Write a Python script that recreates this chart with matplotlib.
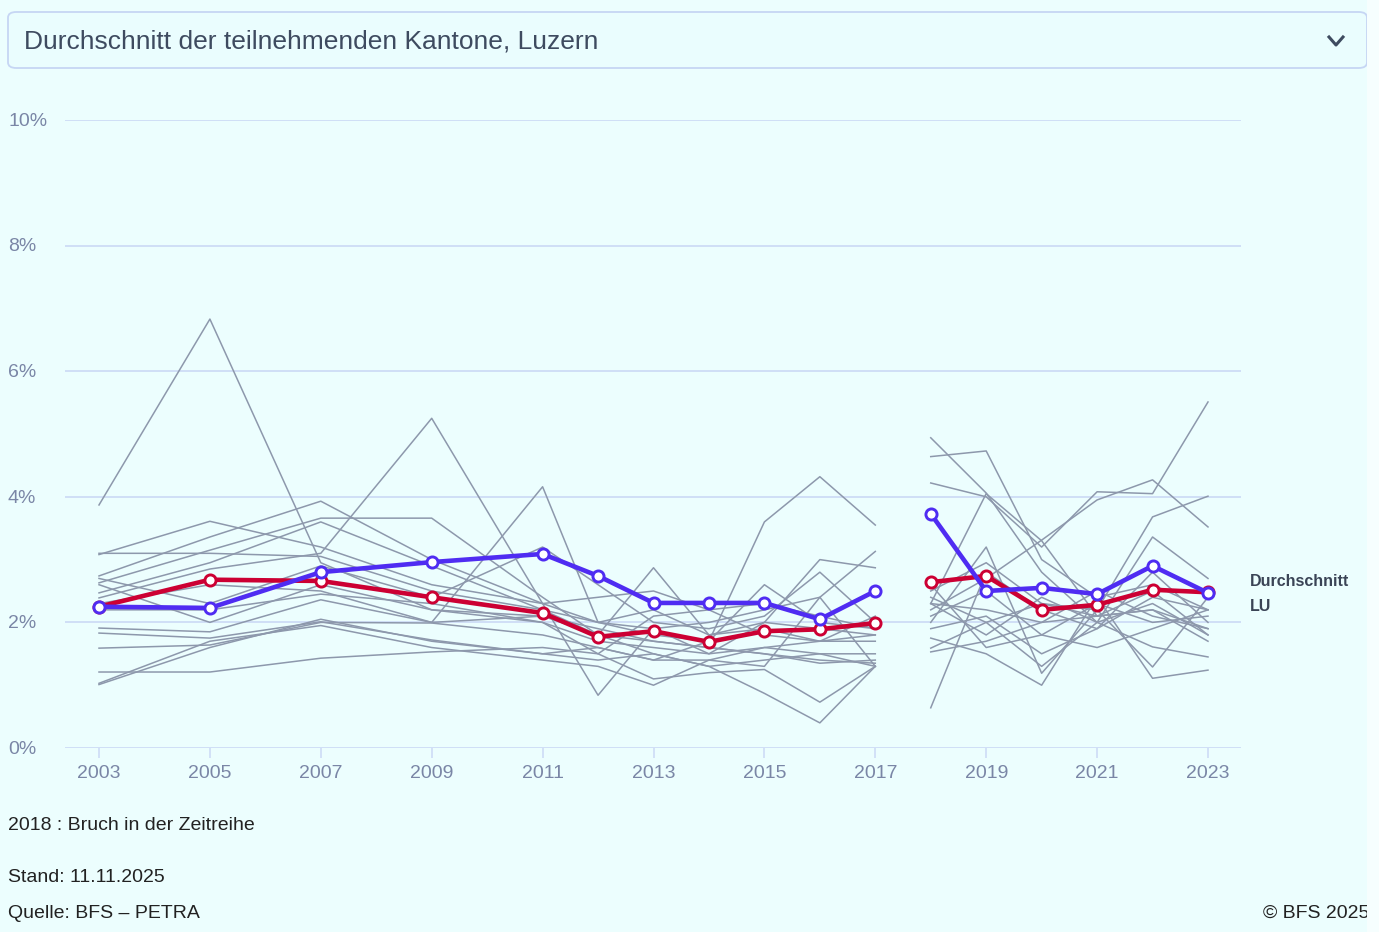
import matplotlib
matplotlib.use("Agg")
import matplotlib.pyplot as plt
import matplotlib.transforms as mtransforms
from matplotlib.patches import FancyBboxPatch, Rectangle
import numpy as np

# years with data (2018 = break in the series)
years = [2003, 2005, 2007, 2009, 2011, 2012, 2013, 2014, 2015, 2016, 2017,
         2018, 2019, 2020, 2021, 2022, 2023]
breakYear = 2018
tickYears = [2003, 2005, 2007, 2009, 2011, 2013, 2015, 2017, 2019, 2021, 2023]
yTicks = [0, 2, 4, 6, 8, 10]

avgValues = [2.25, 2.68, 2.66, 2.40, 2.15, 1.77, 1.86, 1.69, 1.86, 1.89, 1.99,
             2.64, 2.74, 2.20, 2.28, 2.52, 2.48]
luValues = [2.25, 2.23, 2.80, 2.96, 3.09, 2.74, 2.31, 2.31, 2.31, 2.05, 2.50,
            3.73, 2.50, 2.55, 2.45, 2.90, 2.47]

# other cantons (grey background lines)
cantonValues = [
    [3.87, 6.83, 2.95, 2.20, 2.10, 1.90, 1.70, 1.60, 1.50, 1.40, 1.35, 2.30, 4.05, 3.30, 2.10, 2.20, 1.90],
    [3.10, 3.10, 3.05, 2.50, 2.20, 1.80, 1.50, 1.30, 1.40, 1.50, 1.50, 4.94, 4.06, 2.80, 2.00, 2.30, 1.80],
    [3.08, 3.61, 3.20, 2.60, 2.30, 2.00, 2.20, 1.80, 2.00, 1.90, 1.80, 4.64, 4.73, 3.00, 2.40, 2.60, 2.20],
    [2.74, 3.36, 3.93, 3.00, 2.30, 2.40, 2.50, 2.20, 2.30, 2.10, 1.90, 4.22, 4.00, 3.20, 4.08, 4.05, 5.51],
    [2.63, 3.15, 3.66, 3.66, 2.40, 1.80, 2.87, 1.80, 1.90, 1.70, 1.70, 2.20, 2.70, 3.31, 3.95, 4.27, 3.52],
    [2.47, 2.95, 3.60, 2.90, 2.20, 2.00, 1.80, 1.70, 3.60, 4.32, 3.55, 2.50, 2.95, 2.30, 2.20, 3.68, 4.01],
    [2.39, 2.85, 3.10, 5.25, 2.30, 0.84, 1.90, 1.50, 1.60, 1.50, 1.30, 2.30, 1.80, 2.40, 2.00, 3.36, 2.70],
    [2.30, 2.60, 2.50, 2.00, 4.16, 2.00, 1.90, 2.00, 2.20, 2.40, 3.13, 2.00, 3.20, 1.19, 2.20, 1.29, 2.40],
    [2.20, 2.20, 2.45, 2.30, 2.00, 1.70, 1.60, 1.50, 2.00, 3.00, 2.87, 1.75, 1.50, 1.00, 2.40, 1.11, 1.24],
    [1.91, 1.85, 2.36, 2.00, 2.10, 1.80, 1.70, 1.60, 1.50, 1.35, 1.40, 1.59, 2.00, 1.30, 2.00, 1.61, 1.45],
    [1.83, 1.75, 2.01, 1.72, 1.50, 1.40, 1.50, 1.30, 0.87, 0.40, 1.30, 0.64, 2.80, 2.20, 1.90, 2.80, 2.00],
    [1.59, 1.64, 2.00, 1.99, 1.80, 1.60, 1.40, 1.40, 1.30, 2.40, 1.30, 1.53, 1.70, 2.00, 2.10, 2.20, 1.70],
    [1.21, 1.21, 1.43, 1.53, 1.60, 1.50, 1.10, 1.20, 1.25, 0.73, 1.30, 2.10, 2.50, 1.80, 1.60, 1.90, 2.20],
    [1.03, 1.70, 1.95, 1.60, 1.40, 1.30, 1.00, 1.40, 1.60, 1.70, 1.80, 2.40, 2.00, 2.30, 2.10, 2.50, 1.80],
    [1.01, 1.60, 2.05, 1.70, 1.50, 1.60, 1.40, 1.70, 2.60, 2.00, 1.90, 2.60, 1.60, 1.80, 2.30, 2.00, 2.10],
    [2.70, 2.30, 2.90, 2.40, 3.20, 2.60, 2.00, 1.90, 2.10, 2.80, 2.00, 2.30, 2.20, 2.00, 2.50, 2.10, 1.90],
    [2.60, 2.00, 2.60, 2.20, 2.00, 1.50, 2.10, 2.20, 1.80, 1.70, 2.10, 1.90, 2.10, 1.50, 1.90, 2.40, 2.20],
]

bgColor = "#ecfefe"
gridColor = "#cddcf6"
labelColor = "#7a86a6"
greyColor = "#8d98ac"
avgColor = "#cc0033"
luColor = "#4f2cf2"

W, H = 1379, 932
fig = plt.figure(figsize=(W / 100, H / 100), dpi=100, facecolor=bgColor)
plt.rcParams["font.family"] = ["Liberation Sans", "DejaVu Sans"]

ax = fig.add_axes([65 / W, (H - 748) / H, 1176 / W, 628 / H])
ax.set_facecolor(bgColor)
ax.set_xlim(2003 - 34 / 55.45, 2023 + 33 / 55.45)
ax.set_ylim(0, 10)
for s in ax.spines.values():
    s.set_visible(False)

for yv in yTicks:
    ax.axhline(yv, color=gridColor, lw=1.3, zorder=0)

years = np.array(years)
before = years < breakYear
after = years >= breakYear

for vals in cantonValues:
    vals = np.array(vals)
    for m in (before, after):
        ax.plot(years[m], vals[m], color=greyColor, lw=1.1, zorder=1)

for vals, col in ((avgValues, avgColor), (luValues, luColor)):
    vals = np.array(vals)
    for m in (before, after):
        ax.plot(years[m], vals[m], color=col, lw=3.3, marker="o", ms=8,
                mfc="white", mec=col, mew=2.1, zorder=3)

ax.annotate("Durchschnitt", xy=(years[-1], avgValues[-1]), xytext=(30, 8),
            textcoords="offset points", fontsize=11.5, fontweight="bold",
            color="#3a4456", va="center", ha="left", annotation_clip=False)
ax.annotate("LU", xy=(years[-1], luValues[-1]), xytext=(30, -10),
            textcoords="offset points", fontsize=11.5, fontweight="bold",
            color="#3a4456", va="center", ha="left", annotation_clip=False)

ax.set_xticks(tickYears)
ax.set_xticklabels([str(y) for y in tickYears])
ax.tick_params(axis="x", length=7, width=1.2, color=gridColor, labelcolor=labelColor,
               labelsize=14, pad=5)
ax.set_yticks([])

trans = mtransforms.blended_transform_factory(fig.transFigure, ax.transData)
for yv in yTicks:
    ax.text(8 / W, yv - 0.02, "%d%%" % yv, transform=trans, ha="left", va="center",
            fontsize=14, color=labelColor)

# dropdown box on top
box = FancyBboxPatch((8 / W, (H - 68) / H), 1359 / W, 56 / H,
                     boxstyle="round,pad=0,rounding_size=0.006",
                     transform=fig.transFigure, facecolor="#eafdfe",
                     edgecolor="#c6d6f4", lw=1.3)
fig.patches.append(box)
fig.text(24 / W, (H - 42) / H, "Durchschnitt der teilnehmenden Kantone, Luzern",
         fontsize=19, color="#3e4b60", va="center", ha="left")
fig.lines.append(plt.Line2D([1329 / W, 1336 / W, 1343 / W],
                            [(H - 37) / H, (H - 45) / H, (H - 37) / H],
                            transform=fig.transFigure, color="#3e4b60", lw=2.2))

fig.text(8 / W, (H - 826) / H, "2018 : Bruch in der Zeitreihe", fontsize=14,
         color="#222222", va="center", ha="left")
fig.text(8 / W, (H - 878) / H, "Stand: 11.11.2025", fontsize=14,
         color="#222222", va="center", ha="left")
fig.text(8 / W, (H - 913) / H, "Quelle: BFS \u2013 PETRA", fontsize=14,
         color="#222222", va="center", ha="left")
fig.text(1263 / W, (H - 913) / H, "\u00a9 BFS 2025", fontsize=14,
         color="#222222", va="center", ha="left", zorder=1)
fig.patches.append(Rectangle((1367 / W, 0), 12 / W, 1, transform=fig.transFigure,
                             facecolor="#f6fefe", edgecolor="none", zorder=5))

fig.savefig("out.png", dpi=100, facecolor=bgColor)
